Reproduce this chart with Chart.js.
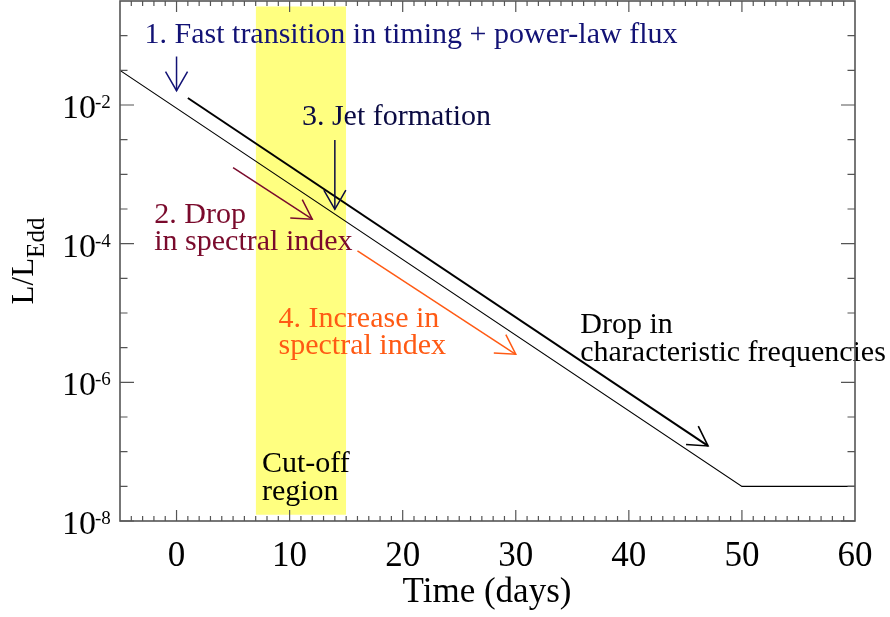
<!DOCTYPE html>
<html>
<head>
<meta charset="utf-8">
<script src="https://cdn.jsdelivr.net/npm/chart.js@4"></script>
<style>
  html, body { margin: 0; padding: 0; background: #fff; }
  #wrap { width: 890px; height: 617px; }
</style>
</head>
<body>
<div id="wrap"><canvas id="chart" width="890" height="617"></canvas></div>
<script>
// light curve (thin) and shifted curve (thick)
const thinDays = [-5, 50, 60]
const thinLum = [3.16e-2, 3.16e-8, 3.16e-8]
const thickDays = [1, 47]
const thickLum = [1.26e-2, 1.21e-7]

// cut-off region band
const bandDays = [7, 15]
const bandTop = 0.263
const bandBottom = 1.23e-8

const xTicks = [0, 10, 20, 30, 40, 50, 60]
const yTicks = [1e-8, 1e-6, 1e-4, 1e-2]
const yTickExp = ['-8', '-6', '-4', '-2']
const yMinorExp = [-7.5, -7, -6.5, -5.5, -5, -4.5, -3.5, -3, -2.5, -1.5, -1]

// arrows: [x0, y0, x1, y1]
const arrows = [
  { from: [0, 5.0e-2], to: [0, 1.61e-2], color: '#121275' },
  { from: [5, 1.25e-3], to: [12, 2.25e-4], color: '#7a0a2c' },
  { from: [14, 3.13e-3], to: [14, 3.13e-4], color: '#0a0a42' },
  { from: [16, 7.9e-5], to: [30, 2.54e-6], color: '#ff5a14' }
]

const notes = [
  { text: '1. Fast transition in timing + power-law flux', x: -2.83, y: 7.83e-2, color: '#121275' },
  { text: '3. Jet formation', x: 11.09, y: 5.15e-3, color: '#0a0a42' },
  { text: '2. Drop', x: -1.97, y: 2.0e-4, color: '#7a0a2c' },
  { text: 'in spectral index', x: -1.97, y: 8.1e-5, color: '#7a0a2c' },
  { text: '4. Increase in', x: 9.02, y: 6.3e-6, color: '#ff5a14' },
  { text: 'spectral index', x: 9.02, y: 2.6e-6, color: '#ff5a14' },
  { text: 'Drop in', x: 35.7, y: 5.1e-6, color: '#000000' },
  { text: 'characteristic frequencies', x: 35.7, y: 2.03e-6, color: '#000000' },
  { text: 'Cut-off', x: 7.55, y: 5.05e-8, color: '#000000' },
  { text: 'region', x: 7.55, y: 2.0e-8, color: '#000000' }
]

const serif = '"Liberation Serif", "Times New Roman", serif'

function arrowHead(ctx, x0, y0, x1, y1) {
  const ang = Math.atan2(y1 - y0, x1 - x0)
  const len = 22
  const spread = Math.PI / 6
  ctx.beginPath()
  ctx.moveTo(x1 - len * Math.cos(ang - spread), y1 - len * Math.sin(ang - spread))
  ctx.lineTo(x1, y1)
  ctx.lineTo(x1 - len * Math.cos(ang + spread), y1 - len * Math.sin(ang + spread))
  ctx.stroke()
}

const decorations = {
  id: 'decorations',
  afterDatasetsDraw(chart) {
    const { ctx, chartArea: a } = chart
    const xs = chart.scales.x
    const ys = chart.scales.y
    ctx.save()
    ctx.lineCap = 'butt'

    // arrows
    arrows.forEach((ar) => {
      const x0 = xs.getPixelForValue(ar.from[0])
      const y0 = ys.getPixelForValue(ar.from[1])
      const x1 = xs.getPixelForValue(ar.to[0])
      const y1 = ys.getPixelForValue(ar.to[1])
      ctx.strokeStyle = ar.color
      ctx.lineWidth = 1.5
      ctx.beginPath()
      ctx.moveTo(x0, y0)
      ctx.lineTo(x1, y1)
      ctx.stroke()
      arrowHead(ctx, x0, y0, x1, y1)
    })
    // head on the thick curve
    ctx.strokeStyle = '#000'
    ctx.lineWidth = 1.6
    arrowHead(ctx,
      xs.getPixelForValue(thickDays[0]), ys.getPixelForValue(thickLum[0]),
      xs.getPixelForValue(thickDays[1]), ys.getPixelForValue(thickLum[1]))

    // annotation text
    ctx.font = '30px ' + serif
    ctx.textAlign = 'left'
    ctx.textBaseline = 'alphabetic'
    notes.forEach((n) => {
      ctx.fillStyle = n.color
      ctx.fillText(n.text, xs.getPixelForValue(n.x), ys.getPixelForValue(n.y))
    })

    // frame
    ctx.strokeStyle = '#555'
    ctx.lineWidth = 1.6
    ctx.strokeRect(a.left, a.top, a.right - a.left, a.bottom - a.top)

    // x ticks (bottom + top), inward
    ctx.lineWidth = 1.2
    ctx.beginPath()
    for (let d = -4; d < 60; d++) {
      const px = xs.getPixelForValue(d)
      const len = d % 10 === 0 ? 11 : 5
      ctx.moveTo(px, a.bottom)
      ctx.lineTo(px, a.bottom - len)
      ctx.moveTo(px, a.top)
      ctx.lineTo(px, a.top + len)
    }
    // y ticks (left + right)
    yTicks.forEach((v) => {
      const py = ys.getPixelForValue(v)
      ctx.moveTo(a.left, py)
      ctx.lineTo(a.left + 14, py)
      ctx.moveTo(a.right, py)
      ctx.lineTo(a.right - 14, py)
    })
    yMinorExp.forEach((e) => {
      const py = ys.getPixelForValue(Math.pow(10, e))
      ctx.moveTo(a.left, py)
      ctx.lineTo(a.left + 7.5, py)
      ctx.moveTo(a.right, py)
      ctx.lineTo(a.right - 7.5, py)
    })
    ctx.stroke()

    // tick labels
    ctx.fillStyle = '#000'
    ctx.font = '35px ' + serif
    ctx.textAlign = 'center'
    xTicks.forEach((v) => {
      ctx.fillText(String(v), xs.getPixelForValue(v), 566)
    })
    yTicks.forEach((v, i) => {
      const py = ys.getPixelForValue(v)
      ctx.font = '34px ' + serif
      ctx.textAlign = 'right'
      ctx.fillText('10', 96, py + 13)
      ctx.font = '19px ' + serif
      ctx.textAlign = 'left'
      ctx.fillText(yTickExp[i], 95, py + 3)
    })

    // axis titles
    ctx.font = '35px ' + serif
    ctx.textAlign = 'center'
    ctx.fillText('Time (days)', 487, 602)

    ctx.translate(33, 261)
    ctx.rotate(-Math.PI / 2)
    ctx.font = '31px ' + serif
    const w1 = ctx.measureText('L/L').width
    ctx.font = '25px ' + serif
    const w2 = ctx.measureText('Edd').width
    const start = -(w1 + w2) / 2
    ctx.textAlign = 'left'
    ctx.font = '31px ' + serif
    ctx.fillText('L/L', start, 0)
    ctx.font = '25px ' + serif
    ctx.fillText('Edd', start + w1, 11)
    ctx.restore()
  }
}

const toPoints = (xs, ys) => xs.map((x, i) => ({ x: x, y: ys[i] }))

new Chart(document.getElementById('chart').getContext('2d'), {
  type: 'line',
  data: {
    datasets: [
      {
        data: toPoints(thickDays, thickLum),
        borderColor: '#000',
        borderWidth: 2,
        pointRadius: 0,
        fill: false
      },
      {
        data: toPoints(thinDays, thinLum),
        borderColor: '#000',
        borderWidth: 1.1,
        pointRadius: 0,
        fill: false
      },
      {
        data: toPoints(bandDays, [bandTop, bandTop]),
        borderWidth: 0,
        borderColor: 'rgba(0,0,0,0)',
        backgroundColor: '#ffff80',
        pointRadius: 0,
        fill: '+1'
      },
      {
        data: toPoints(bandDays, [bandBottom, bandBottom]),
        borderWidth: 0,
        borderColor: 'rgba(0,0,0,0)',
        pointRadius: 0,
        fill: false
      }
    ]
  },
  options: {
    responsive: false,
    animation: false,
    events: [],
    layout: { padding: { left: 120, right: 35, top: 1, bottom: 96 } },
    plugins: { legend: { display: false }, tooltip: { enabled: false } },
    scales: {
      x: { type: 'linear', min: -5, max: 60, display: false },
      y: { type: 'logarithmic', min: 1e-8, max: 0.316, display: false }
    }
  },
  plugins: [decorations]
})
</script>
</body>
</html>
